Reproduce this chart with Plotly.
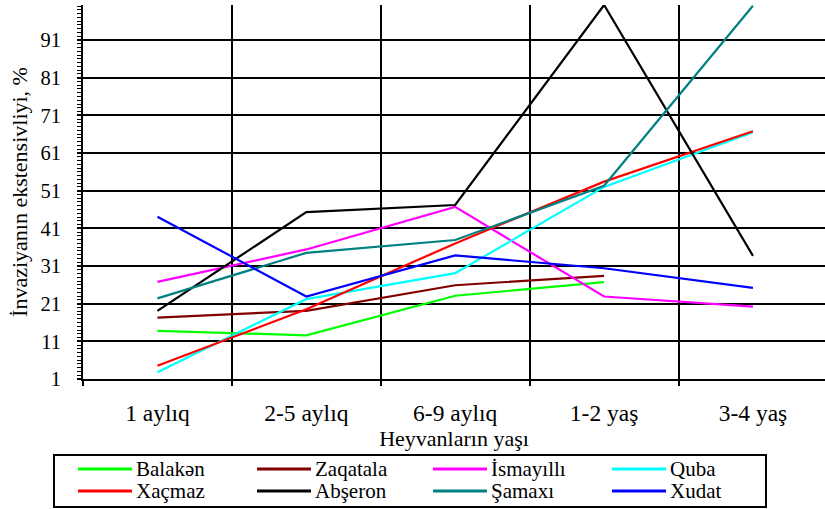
import plotly.graph_objects as go

# ---- data ----
categories = ["1 aylıq", "2-5 aylıq", "6-9 aylıq", "1-2 yaş", "3-4 yaş"]
series_names = ["Balakən", "Zaqatala", "İsmayıllı", "Quba",
                "Xaçmaz", "Abşeron", "Şamaxı", "Xudat"]
balaken   = [13.8, 12.6, 23.1, 26.7, None]
zaqatala  = [17.3, 19.1, 25.9, 28.4, None]
ismayilli = [26.8, 35.4, 46.7, 22.9, 20.2]
quba      = [2.8, 22.2, 29.1, 52.0, 66.5]
xacmaz    = [4.5, 19.5, 37.0, 53.4, 66.8]
abseron   = [19.1, 45.3, 47.2, 100.3, 33.7]
samaxi    = [22.4, 34.5, 37.9, 52.3, 100.1]
xudat     = [44.1, 22.9, 33.8, 30.4, 25.2]
y_tick_values = [1, 11, 21, 31, 41, 51, 61, 71, 81, 91]

series_values = [balaken, zaqatala, ismayilli, quba, xacmaz, abseron, samaxi, xudat]
colors = ["#00FF00", "#800000", "#FF00FF", "#00FFFF",
          "#FF0000", "#000000", "#008080", "#0000FF"]

FONT = "Liberation Serif"
W, H = 825, 509
ML, MR, MT, MB = 83, 0, 5, 130
PW, PH = W - ML - MR, H - MT - MB

fig = go.Figure()
for name, vals, col in zip(series_names, series_values, colors):
    fig.add_trace(go.Scatter(x=categories, y=vals, name=name, mode="lines",
                             line=dict(color=col, width=2.2), showlegend=False,
                             connectgaps=False))

def px_x(px):
    return (px - ML) / PW

def px_y(py):
    return (H - MB - py) / PH

# ---- manual legend (tight rows like the original) ----
shapes = [dict(type="rect", xref="paper", yref="paper",
               x0=px_x(54), x1=px_x(766), y0=px_y(455), y1=px_y(507),
               line=dict(color="black", width=2), fillcolor="rgba(0,0,0,0)")]
annotations = []
col_starts = [78, 257, 433, 612]
row_y = [469, 491]
for i, (name, col) in enumerate(zip(series_names, colors)):
    r, c = divmod(i, 4)
    x0 = col_starts[c]
    yy = row_y[r]
    shapes.append(dict(type="line", xref="paper", yref="paper",
                       x0=px_x(x0), x1=px_x(x0 + 54), y0=px_y(yy), y1=px_y(yy),
                       line=dict(color=col, width=3)))
    annotations.append(dict(xref="paper", yref="paper", x=px_x(x0 + 57), y=px_y(yy),
                            text=name, showarrow=False, xanchor="left", yanchor="middle",
                            borderpad=0,
                            font=dict(family=FONT, size=21, color="black")))

fig.update_layout(
    width=W, height=H,
    margin=dict(l=ML, r=MR, t=MT, b=MB),
    paper_bgcolor="white", plot_bgcolor="white",
    font=dict(family=FONT, color="black"),
    shapes=shapes, annotations=annotations,
    showlegend=False,
)

fig.update_xaxes(
    type="category", range=[-0.5, 4.484], tickson="boundaries",
    showgrid=True, gridcolor="black", gridwidth=2,
    showline=True, linecolor="black", linewidth=2,
    ticks="outside", ticklen=5, tickwidth=2, tickcolor="black",
    tickfont=dict(family=FONT, size=23.5, color="black"),
    ticklabelstandoff=12,
    title=dict(text="Heyvanların yaşı", font=dict(family=FONT, size=22, color="black"),
               standoff=2),
    automargin=False, zeroline=False,
)

fig.update_yaxes(
    range=[1, 100.3], tickmode="array", tickvals=y_tick_values,
    showgrid=True, gridcolor="black", gridwidth=2,
    showline=True, linecolor="black", linewidth=2,
    ticks="outside", ticklen=4, tickwidth=2, tickcolor="black",
    minor=dict(tick0=1, dtick=1, ticks="outside", ticklen=4, tickwidth=1,
               tickcolor="black", showgrid=False),
    tickfont=dict(family=FONT, size=20.5, color="black"),
    ticklabelstandoff=12,
    title=dict(text="İnvaziyanın ekstensivliyi, %", font=dict(family=FONT, size=22, color="black"),
               standoff=7),
    automargin=False, zeroline=False,
)

fig.write_html("out.html", config={"displayModeBar": False},
               post_script="document.body.style.margin='0px';")
